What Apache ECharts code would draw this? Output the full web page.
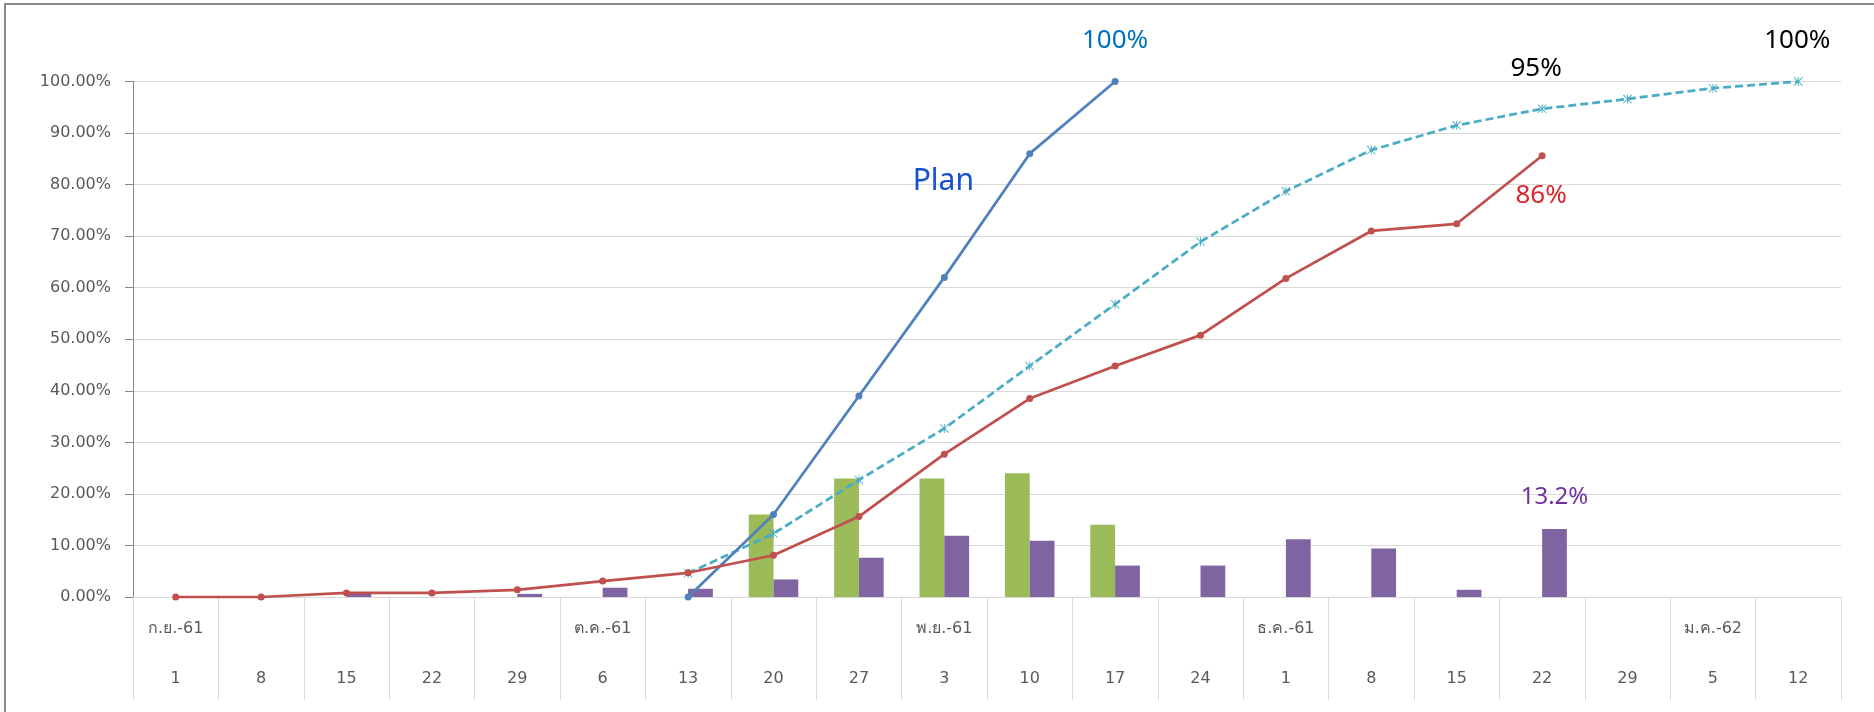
<!DOCTYPE html>
<html>
<head>
<meta charset="utf-8">
<script src="https://cdn.jsdelivr.net/npm/echarts@6/dist/echarts.min.js"></script>
<style>
  html, body { margin: 0; padding: 0; background: #fff; }
  #container { width: 1874px; height: 712px; }
</style>
</head>
<body>
<div id="container"></div>
<script>
var dom = document.getElementById("container");
var myChart = echarts.init(dom);
var option;

// weeks (day / month)
var weeks = ['1/9','8/9','15/9','22/9','29/9','6/10','13/10','20/10','27/10','3/11','10/11','17/11','24/11','1/12','8/12','15/12','22/12','29/12','5/1','12/1'];
var weekDays = ['1','8','15','22','29','6','13','20','27','3','10','17','24','1','8','15','22','29','5','12'];
var monthLabels = ['ก.ย.-61','','','','','ต.ค.-61','','','','พ.ย.-61','','','','ธ.ค.-61','','','','','ม.ค.-62',''];

// cumulative %
var planCum     = [null,null,null,null,null,null,0,16,39,62,86,100,null,null,null,null,null,null,null,null];
var forecastCum = [null,null,null,null,null,null,4.6,12.3,22.7,32.7,44.8,56.8,68.9,78.7,86.7,91.5,94.7,96.6,98.7,100];
var actualCum   = [0,0,0.8,0.8,1.4,3.1,4.7,8.1,15.6,27.7,38.5,44.8,50.8,61.8,71.0,72.4,85.6,null,null,null];
// weekly %
var planWeek    = [null,null,null,null,null,null,null,16,23,23,24,14,null,null,null,null,null,null,null,null];
var actualWeek  = [null,null,0.8,null,0.6,1.8,1.6,3.4,7.6,11.9,10.9,6.1,6.1,11.2,9.4,1.4,13.2,null,null,null];

var axisFont = "'DejaVu Sans', 'Noto Sans', sans-serif";
var noteFont = "'Noto Sans', 'DejaVu Sans', sans-serif";

// asterisk marker
var starPath = 'path://M4.5 0 H5.5 V10 H4.5 Z M0 0.7 L0.7 0 L10 9.3 L9.3 10 Z M9.3 0 L10 0.7 L0.7 10 L0 9.3 Z';

function withLabels(arr, notes) {
    return arr.map(function (v, i) {
        if (notes[i] && v != null) {
            return { value: v, label: notes[i] };
        }
        return v;
    });
}

function note(text, color, size, pos, dist, dx) {
    return {
        show: true,
        formatter: text,
        position: pos,
        distance: dist,
        offset: [dx || 0, 0],
        color: color,
        fontSize: size,
        fontFamily: noteFont
    };
}

option = {
    animation: false,
    backgroundColor: '#fff',
    grid: {
        top: 81.5,
        bottom: 115,
        left: 133,
        right: 33
    },
    graphic: [
        {
            type: 'polyline',
            shape: { points: [[5, 712], [5, 4], [1874, 4]] },
            style: { stroke: '#8c8c8c', lineWidth: 2, fill: null }
        }
    ],
    xAxis: [
        {
            type: 'category',
            position: 'bottom',
            data: weeks,
            axisLine: { lineStyle: { color: '#d9d9d9', width: 1 } },
            axisTick: { show: true, length: 103, interval: 0, lineStyle: { color: '#d9d9d9', width: 1 } },
            axisLabel: {
                interval: 0,
                margin: 74,
                color: '#595959',
                fontSize: 16,
                fontFamily: axisFont,
                formatter: function (v, i) { return weekDays[i]; }
            },
            splitLine: { show: false }
        },
        {
            type: 'category',
            position: 'bottom',
            data: weeks,
            axisLine: { show: false },
            axisTick: { show: false },
            axisLabel: {
                interval: 0,
                margin: 24,
                color: '#595959',
                fontSize: 16,
                fontFamily: axisFont,
                formatter: function (v, i) { return monthLabels[i]; }
            },
            splitLine: { show: false }
        }
    ],
    yAxis: {
        type: 'value',
        min: 0,
        max: 100,
        interval: 10,
        axisLine: { show: true, lineStyle: { color: '#868686', width: 1 } },
        axisTick: { show: true, length: 8, lineStyle: { color: '#868686' } },
        axisLabel: {
            margin: 22,
            color: '#595959',
            fontSize: 16,
            fontFamily: axisFont,
            formatter: function (v) { return v.toFixed(2) + '%'; }
        },
        splitLine: { lineStyle: { color: '#d9d9d9', width: 1 } }
    },
    series: [
        {
            name: 'Plan weekly',
            type: 'bar',
            data: planWeek,
            barGap: '0%',
            barCategoryGap: '42%',
            itemStyle: { color: '#9BBB59' }
        },
        {
            name: 'Actual weekly',
            type: 'bar',
            data: withLabels(actualWeek, { 16: note('13.2%', '#7030A0', 24, 'top', 20, 0) }),
            barGap: '0%',
            barCategoryGap: '42%',
            itemStyle: { color: '#8064A2' }
        },
        {
            name: 'Plan',
            type: 'line',
            data: withLabels(planCum, {
                9: note('Plan', '#1550D0', 30, 'top', 77, -1),
                11: note('100%', '#0070C0', 26, 'top', 24, 0)
            }),
            symbol: 'circle',
            symbolSize: 7,
            lineStyle: { color: '#4F81BD', width: 2.75 },
            itemStyle: { color: '#4F81BD' },
            z: 4
        },
        {
            name: 'Forecast',
            type: 'line',
            data: withLabels(forecastCum, {
                16: note('95%', '#000000', 26, 'top', 23, -6),
                19: note('100%', '#000000', 26, 'top', 23, -1)
            }),
            symbol: starPath,
            symbolSize: 9,
            lineStyle: { color: '#4BACC6', width: 2.75, type: [8, 4] },
            itemStyle: { color: '#4BACC6' },
            z: 3
        },
        {
            name: 'Actual',
            type: 'line',
            data: withLabels(actualCum, {
                16: note('86%', '#D9262B', 26, 'bottom', 23, -1)
            }),
            symbol: 'circle',
            symbolSize: 7,
            lineStyle: { color: '#C0504D', width: 2.75 },
            itemStyle: { color: '#C0504D' },
            z: 5
        }
    ]
};

if (option && typeof option === 'object') {
    myChart.setOption(option);
}
</script>
</body>
</html>
